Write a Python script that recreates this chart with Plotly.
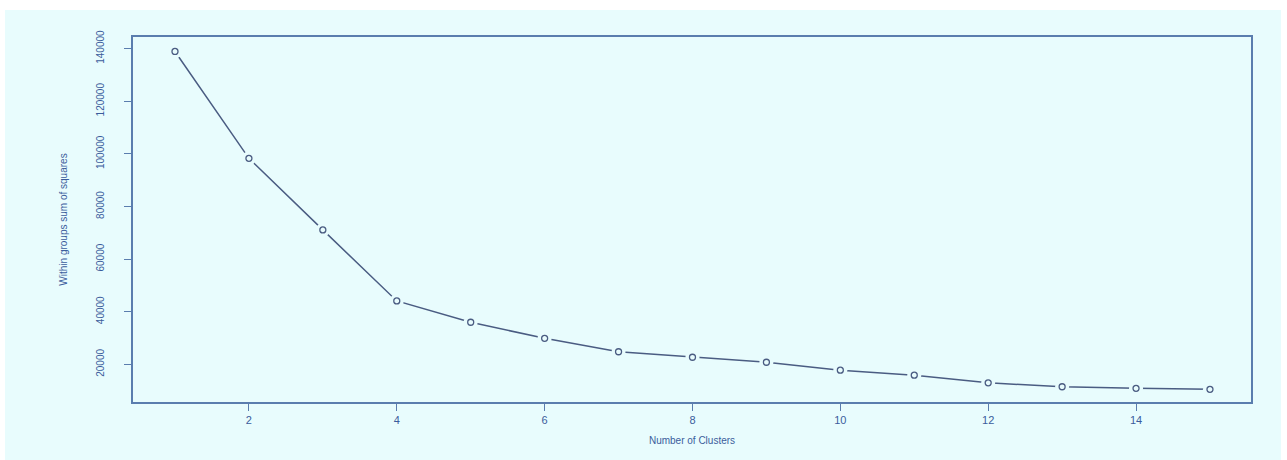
import plotly.graph_objects as go

clusters = list(range(1, 16))
wss = [138900, 98300, 71100, 44100, 36000, 29900, 24800, 22700, 20800,
       17800, 15900, 13000, 11500, 10900, 10500]
x_ticks = [2, 4, 6, 8, 10, 12, 14]
y_ticks = [20000, 40000, 60000, 80000, 100000, 120000, 140000]

BG = "#E8FCFD"
AXIS = "#5A7DAE"
TXT = "#3B5C9C"
LINE = "#4A5C82"

W, H = 1287, 460
L, R, T, B = 133, 36, 37, 58
pw, ph = W - L - R, H - T - B

fig = go.Figure()
fig.add_trace(go.Scatter(x=clusters, y=wss, mode="lines",
                         line=dict(color=LINE, width=1.5), hoverinfo="skip"))
fig.add_trace(go.Scatter(x=clusters, y=wss, mode="markers",
                         marker=dict(size=14, color=BG, line=dict(width=0)), hoverinfo="skip"))
fig.add_trace(go.Scatter(x=clusters, y=wss, mode="markers",
                         marker=dict(size=6, color=BG, line=dict(color=LINE, width=1.3))))

# white frame strips (top, left, right) around the cyan page
def px_x(p):
    return (p - L) / pw

def px_y(p):
    return 1 - (p - T) / ph

for x0, x1, y0, y1 in [(-10, W + 10, -10, 10), (-10, 5, -10, H + 10), (1281, W + 10, -10, H + 10)]:
    fig.add_shape(type="rect", xref="paper", yref="paper", layer="below",
                  x0=px_x(x0), x1=px_x(x1), y0=px_y(y1), y1=px_y(y0),
                  fillcolor="white", line=dict(width=0))

fig.update_layout(
    width=W, height=H, showlegend=False,
    margin=dict(l=L, r=R, t=T, b=B),
    paper_bgcolor=BG, plot_bgcolor=BG,
    font=dict(family="Liberation Sans Narrow, Liberation Sans, Arial", color=TXT, size=10),
)
fig.update_xaxes(range=[0.432, 15.555], tickvals=x_ticks, ticktext=[str(v) for v in x_ticks],
                 showline=True, mirror=True, linecolor=AXIS, linewidth=2,
                 ticks="outside", ticklen=7, tickcolor=AXIS, showgrid=False, zeroline=False,
                 tickfont=dict(size=11, color=TXT),
                 title=dict(text="Number of Clusters", font=dict(size=10, color=TXT), standoff=12))
fig.update_yaxes(range=[5700, 144400], tickvals=y_ticks, ticktext=[str(v) for v in y_ticks],
                 showline=True, mirror=True, linecolor=AXIS, linewidth=2,
                 ticks="outside", ticklen=7, tickcolor=AXIS, showgrid=False, zeroline=False,
                 tickangle=-90, tickfont=dict(size=10, color=TXT), ticklabelstandoff=16,
                 title=dict(text="Within groups sum of squares", font=dict(size=10, color=TXT), standoff=26))

fig.write_html("out.html")
